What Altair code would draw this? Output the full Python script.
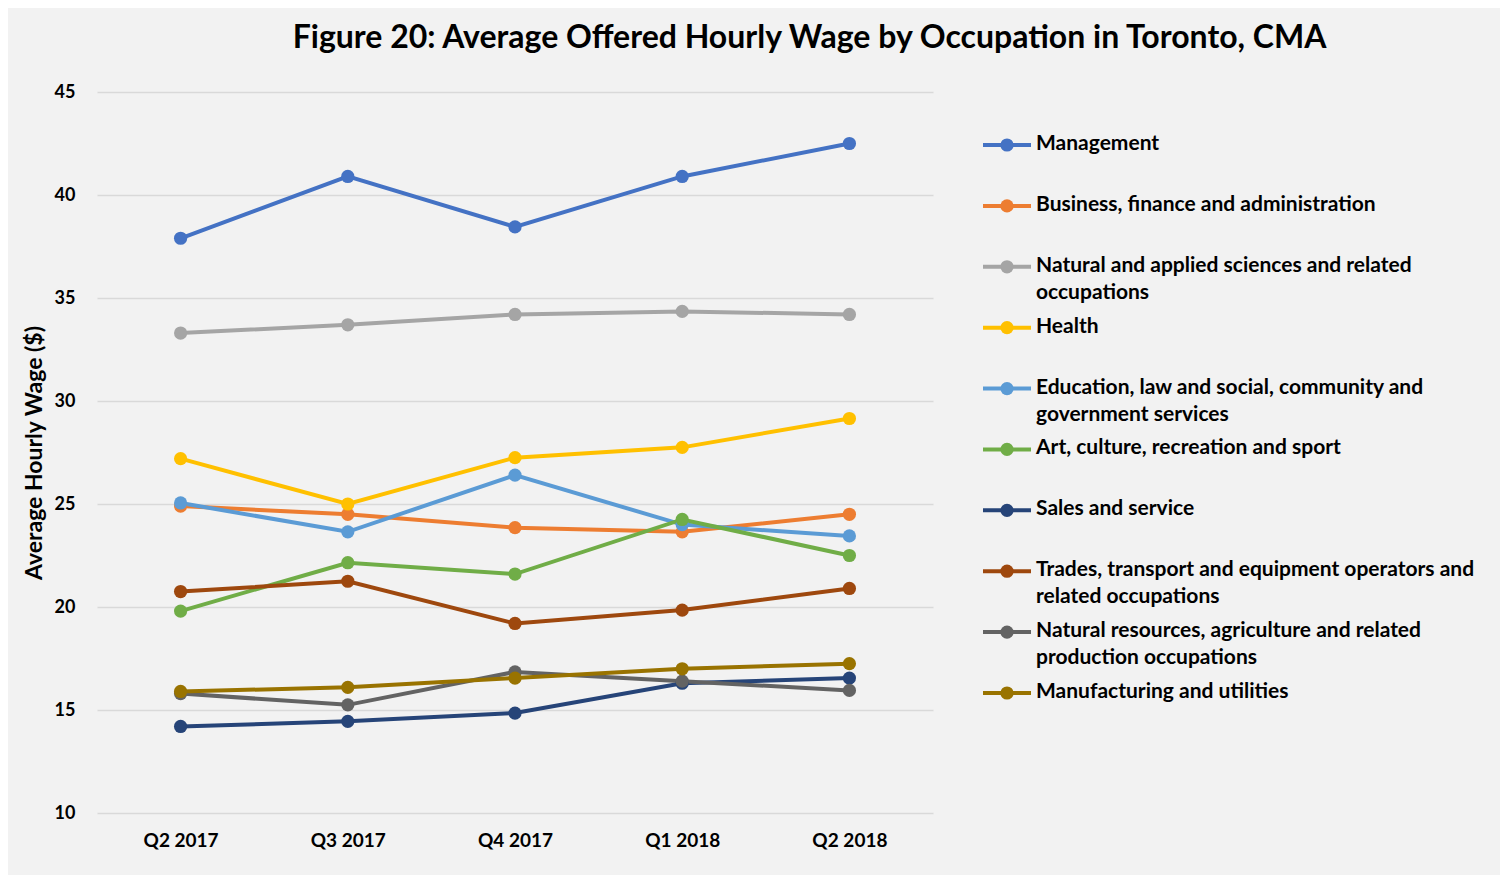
import altair as alt
import pandas as pd

quarters = ["Q2 2017", "Q3 2017", "Q4 2017", "Q1 2018", "Q2 2018"]

occupations = [
    "Management",
    "Business, finance and administration",
    "Natural and applied sciences and related occupations",
    "Health",
    "Education, law and social, community and government services",
    "Art, culture, recreation and sport",
    "Sales and service",
    "Trades, transport and equipment operators and related occupations",
    "Natural resources, agriculture and related production occupations",
    "Manufacturing and utilities",
]

legend_text = [
    "Management",
    "Business, finance and administration",
    "Natural and applied sciences and related\noccupations",
    "Health",
    "Education, law and social, community and\ngovernment services",
    "Art, culture, recreation and sport",
    "Sales and service",
    "Trades, transport and equipment operators and\nrelated occupations",
    "Natural resources, agriculture and related\nproduction occupations",
    "Manufacturing and utilities",
]

colors = ["#4472C4", "#ED7D31", "#A5A5A5", "#FFC000", "#5B9BD5",
          "#70AD47", "#264478", "#9E480E", "#636363", "#997300"]

management = [37.9, 40.9, 38.45, 40.9, 42.5]
business = [24.9, 24.5, 23.85, 23.65, 24.5]
natural_sciences = [33.3, 33.7, 34.2, 34.35, 34.2]
health = [27.2, 25.0, 27.25, 27.75, 29.15]
education = [25.05, 23.65, 26.4, 24.0, 23.45]
art = [19.8, 22.15, 21.6, 24.25, 22.5]
sales = [14.2, 14.45, 14.85, 16.3, 16.55]
trades = [20.75, 21.25, 19.2, 19.85, 20.9]
natural_resources = [15.8, 15.25, 16.85, 16.4, 15.95]
manufacturing = [15.9, 16.1, 16.55, 17.0, 17.25]

series = [management, business, natural_sciences, health, education,
          art, sales, trades, natural_resources, manufacturing]

rows = []
for occ, vals in zip(occupations, series):
    for q, v in zip(quarters, vals):
        rows.append({"occupation": occ, "quarter": q, "wage": v})
df = pd.DataFrame(rows)

legend_df = pd.DataFrame({"occupation": occupations, "label": legend_text})

FONT = "Lato"

color = alt.Color("occupation:N", sort=occupations,
                  scale=alt.Scale(domain=occupations, range=colors),
                  legend=None)

x = alt.X("quarter:N", sort=quarters, title=None,
          scale=alt.Scale(type="point", padding=0.5),
          axis=alt.Axis(labelAngle=0, labelFontSize=19, labelFontWeight="bold",
                        labelFont=FONT, labelColor="#000000", ticks=False,
                        domain=False, labelPadding=18))
y = alt.Y("wage:Q", title="Average Hourly Wage ($)",
          scale=alt.Scale(domain=[10, 45], nice=False, zero=False),
          axis=alt.Axis(values=[10, 15, 20, 25, 30, 35, 40, 45],
                        labelFontSize=18, labelFontWeight="bold", labelFont=FONT,
                        labelColor="#000000", ticks=False, domain=False,
                        labelPadding=22, gridColor="#d9d9d9", gridWidth=1.3,
                        titleFont=FONT, titleFontSize=23, titleFontWeight="bold",
                        titleColor="#000000", titlePadding=8))

base = alt.Chart(df).encode(x=x, y=y, color=color)
lines = base.mark_line(strokeWidth=4)
points = base.mark_circle(size=175, opacity=1)
plot = alt.layer(lines, points).properties(width=836, height=721)

ly = alt.Y("occupation:N", sort=occupations, axis=None,
           scale=alt.Scale(type="point", range=[53, 601], padding=0))
lbase = alt.Chart(legend_df).encode(y=ly)
lcolor = alt.Color("occupation:N", sort=occupations,
                   scale=alt.Scale(domain=occupations, range=colors), legend=None)
lrule = lbase.mark_rule(strokeWidth=4).encode(
    x=alt.value(0), x2=alt.value(48), color=lcolor)
lpoint = lbase.mark_circle(size=175, opacity=1).encode(x=alt.value(24), color=lcolor)
ltext = lbase.mark_text(align="left", baseline="top", dy=-12, lineBreak="\n",
                        lineHeight=27, font=FONT, fontSize=21, fontWeight="bold",
                        color="#000000").encode(x=alt.value(53), text="label:N")
legend = alt.layer(lrule, lpoint, ltext).properties(width=513, height=721)

chart = alt.hconcat(plot, legend, spacing=48).properties(
    title=alt.TitleParams(
        "Figure 20: Average Offered Hourly Wage by Occupation in Toronto, CMA",
        font=FONT, fontSize=32, fontWeight="bold", color="#000000",
        anchor="middle", dx=50, offset=28),
    background="#f2f2f2",
    padding={"left": 15, "top": 14, "right": 4, "bottom": 25},
).configure_view(stroke=None)

chart.save("out.html", embed_options={"renderer": "svg", "actions": False})
